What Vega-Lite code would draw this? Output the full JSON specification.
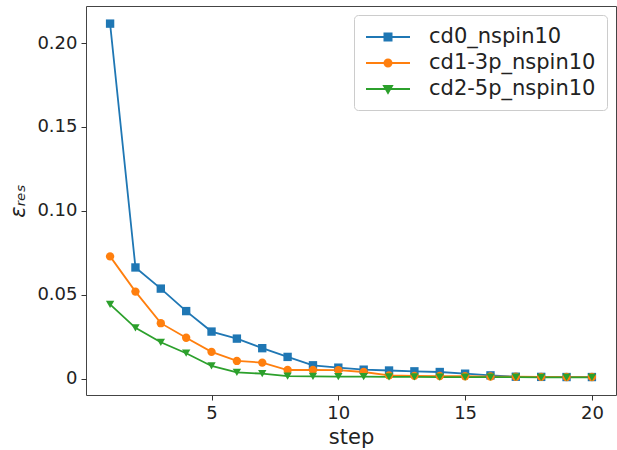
{
  "$schema": "https://vega.github.io/schema/vega-lite/v6.json",
  "autosize": "none",
  "width": 530,
  "height": 389,
  "padding": {"left": 86, "top": 6, "right": 1, "bottom": 55},
  "background": "white",
  "config": {
    "font": "DejaVu Sans",
    "view": {"stroke": "#444", "strokeWidth": 1},
    "axis": {"grid": false, "domain": false, "tickColor": "#333", "tickSize": 5, "labelColor": "#222", "titleColor": "#222", "labelFontSize": 18, "titleFontSize": 21, "titleFontWeight": "normal", "labelFont": "DejaVu Sans", "titleFont": "DejaVu Sans"}
  },
  "data": {"values": [
    {"step": 1, "eps": 0.2116, "series": "cd0_nspin10"},
    {"step": 2, "eps": 0.0663, "series": "cd0_nspin10"},
    {"step": 3, "eps": 0.0537, "series": "cd0_nspin10"},
    {"step": 4, "eps": 0.0403, "series": "cd0_nspin10"},
    {"step": 5, "eps": 0.0281, "series": "cd0_nspin10"},
    {"step": 6, "eps": 0.0239, "series": "cd0_nspin10"},
    {"step": 7, "eps": 0.0182, "series": "cd0_nspin10"},
    {"step": 8, "eps": 0.0130, "series": "cd0_nspin10"},
    {"step": 9, "eps": 0.0080, "series": "cd0_nspin10"},
    {"step": 10, "eps": 0.0066, "series": "cd0_nspin10"},
    {"step": 11, "eps": 0.0054, "series": "cd0_nspin10"},
    {"step": 12, "eps": 0.0049, "series": "cd0_nspin10"},
    {"step": 13, "eps": 0.0044, "series": "cd0_nspin10"},
    {"step": 14, "eps": 0.0040, "series": "cd0_nspin10"},
    {"step": 15, "eps": 0.0030, "series": "cd0_nspin10"},
    {"step": 16, "eps": 0.0020, "series": "cd0_nspin10"},
    {"step": 17, "eps": 0.0012, "series": "cd0_nspin10"},
    {"step": 18, "eps": 0.0011, "series": "cd0_nspin10"},
    {"step": 19, "eps": 0.0010, "series": "cd0_nspin10"},
    {"step": 20, "eps": 0.0010, "series": "cd0_nspin10"},
    {"step": 1, "eps": 0.0729, "series": "cd1-3p_nspin10"},
    {"step": 2, "eps": 0.0519, "series": "cd1-3p_nspin10"},
    {"step": 3, "eps": 0.0331, "series": "cd1-3p_nspin10"},
    {"step": 4, "eps": 0.0244, "series": "cd1-3p_nspin10"},
    {"step": 5, "eps": 0.0160, "series": "cd1-3p_nspin10"},
    {"step": 6, "eps": 0.0106, "series": "cd1-3p_nspin10"},
    {"step": 7, "eps": 0.0096, "series": "cd1-3p_nspin10"},
    {"step": 8, "eps": 0.0052, "series": "cd1-3p_nspin10"},
    {"step": 9, "eps": 0.0052, "series": "cd1-3p_nspin10"},
    {"step": 10, "eps": 0.0051, "series": "cd1-3p_nspin10"},
    {"step": 11, "eps": 0.0040, "series": "cd1-3p_nspin10"},
    {"step": 12, "eps": 0.0020, "series": "cd1-3p_nspin10"},
    {"step": 13, "eps": 0.0017, "series": "cd1-3p_nspin10"},
    {"step": 14, "eps": 0.0016, "series": "cd1-3p_nspin10"},
    {"step": 15, "eps": 0.0015, "series": "cd1-3p_nspin10"},
    {"step": 16, "eps": 0.0013, "series": "cd1-3p_nspin10"},
    {"step": 17, "eps": 0.0012, "series": "cd1-3p_nspin10"},
    {"step": 18, "eps": 0.0011, "series": "cd1-3p_nspin10"},
    {"step": 19, "eps": 0.0010, "series": "cd1-3p_nspin10"},
    {"step": 20, "eps": 0.0010, "series": "cd1-3p_nspin10"},
    {"step": 1, "eps": 0.0443, "series": "cd2-5p_nspin10"},
    {"step": 2, "eps": 0.0303, "series": "cd2-5p_nspin10"},
    {"step": 3, "eps": 0.0217, "series": "cd2-5p_nspin10"},
    {"step": 4, "eps": 0.0152, "series": "cd2-5p_nspin10"},
    {"step": 5, "eps": 0.0076, "series": "cd2-5p_nspin10"},
    {"step": 6, "eps": 0.0038, "series": "cd2-5p_nspin10"},
    {"step": 7, "eps": 0.0030, "series": "cd2-5p_nspin10"},
    {"step": 8, "eps": 0.0016, "series": "cd2-5p_nspin10"},
    {"step": 9, "eps": 0.0014, "series": "cd2-5p_nspin10"},
    {"step": 10, "eps": 0.0013, "series": "cd2-5p_nspin10"},
    {"step": 11, "eps": 0.0012, "series": "cd2-5p_nspin10"},
    {"step": 12, "eps": 0.0011, "series": "cd2-5p_nspin10"},
    {"step": 13, "eps": 0.0011, "series": "cd2-5p_nspin10"},
    {"step": 14, "eps": 0.0010, "series": "cd2-5p_nspin10"},
    {"step": 15, "eps": 0.0010, "series": "cd2-5p_nspin10"},
    {"step": 16, "eps": 0.0009, "series": "cd2-5p_nspin10"},
    {"step": 17, "eps": 0.0009, "series": "cd2-5p_nspin10"},
    {"step": 18, "eps": 0.0008, "series": "cd2-5p_nspin10"},
    {"step": 19, "eps": 0.0008, "series": "cd2-5p_nspin10"},
    {"step": 20, "eps": 0.0008, "series": "cd2-5p_nspin10"}
  ]},
  "encoding": {
    "x": {"field": "step", "type": "quantitative", "scale": {"domain": [0.05, 20.95], "nice": false, "zero": false},
      "axis": {"values": [5, 10, 15, 20], "title": "step", "labelPadding": 4, "titlePadding": 4}},
    "y": {"field": "eps", "type": "quantitative", "scale": {"domain": [-0.0097, 0.2221], "nice": false, "zero": false},
      "axis": {"values": [0, 0.05, 0.1, 0.15, 0.2], "labelExpr": "datum.value == 0 ? '0' : format(datum.value, '.2f')", "title": "εᵣₑₛ", "titleFontStyle": "italic", "labelPadding": 4, "titlePadding": 8}},
    "color": {"field": "series", "type": "nominal",
      "scale": {"domain": ["cd0_nspin10", "cd1-3p_nspin10", "cd2-5p_nspin10"], "range": ["#1f77b4", "#ff7f0e", "#2ca02c"]},
      "legend": {
        "title": null, "orient": "top-right", "offset": 9,
        "labelFontSize": 21, "labelFont": "DejaVu Sans", "labelColor": "#222", "labelLimit": 400,
        "symbolSize": 400, "labelOffset": 42, "rowPadding": 5,
        "padding": 11, "strokeColor": "#cccccc", "cornerRadius": 4, "fillColor": "rgba(255,255,255,0.8)",
        "encode": {"symbols": {"update": {
          "shape": {"signal": "datum.value == 'cd0_nspin10' ? 'M-1,0H3.4M0.84,-0.36H1.56V0.36H0.84Z' : (datum.value == 'cd1-3p_nspin10' ? 'M-1,0H3.4M0.84,0A0.36,0.36 0 1,0 1.56,0A0.36,0.36 0 1,0 0.84,0Z' : 'M-1,0H3.4M0.79,-0.32H1.61L1.2,0.4Z')"},
          "stroke": {"scale": "color", "field": "value"},
          "fill": {"scale": "color", "field": "value"},
          "strokeWidth": {"value": 1.8},
          "opacity": {"value": 1}
        }}}
      }}
  },
  "layer": [
    {"mark": {"type": "line", "strokeWidth": 1.8}},
    {"mark": {"type": "point", "filled": true, "opacity": 1, "size": 70},
     "encoding": {"shape": {"field": "series", "type": "nominal",
       "scale": {"domain": ["cd2-5p_nspin10", "cd1-3p_nspin10", "cd0_nspin10"], "range": ["triangle-down", "circle", "square"]},
       "legend": null}}}
  ]
}
